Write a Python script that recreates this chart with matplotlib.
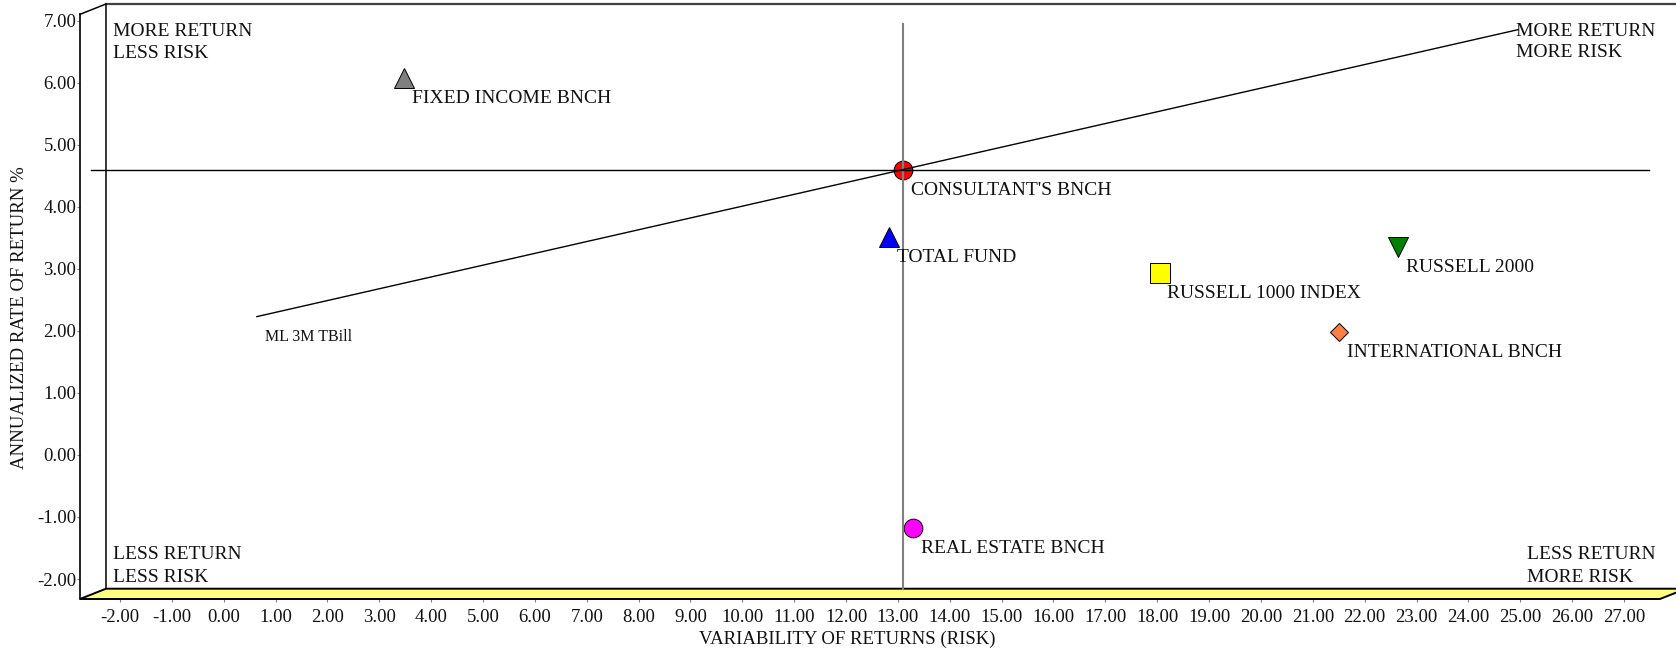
import matplotlib
matplotlib.use("Agg")
import matplotlib.pyplot as plt
from matplotlib.patches import Polygon

plt.rcParams["font.family"] = ["Liberation Serif", "DejaVu Serif"]

# ---- data -------------------------------------------------------------
names = ["CONSULTANT'S BNCH", "TOTAL FUND", "RUSSELL 1000 INDEX",
         "RUSSELL 2000", "INTERNATIONAL BNCH", "REAL ESTATE BNCH",
         "FIXED INCOME BNCH"]
risk = [13.10, 12.83, 18.05, 22.65, 21.51, 13.30, 3.48]
ret = [4.60, 3.51, 2.94, 3.36, 1.98, -1.17, 6.07]

tbill_name = "ML 3M TBill"
tbill_risk = 0.64
tbill_ret = 2.23
cml_end_risk = 24.96

x_ticks = list(range(-2, 28))
y_ticks = list(range(-2, 8))

# ---- styles -----------------------------------------------------------
markers = ["o", "^", "s", "v", "D", "o", "^"]
colors = ["#ff0000", "#0000ff", "#ffff00", "#008000", "#ff8040",
          "#ff00ff", "#808080"]
msizes = [13.5, 13.7, 13.9, 13.7, 9.5, 13.5, 13.7]

W, H = 1676, 650
fig = plt.figure(figsize=(W / 100, H / 100), dpi=100)
fig.patch.set_facecolor("white")

# front plane of the pseudo-3D box
ax = fig.add_axes([80 / W, (H - 599) / H, 1580 / W, 584.7 / H])
xmin, xmax = -2.771, 27.695
ymin, ymax = -2.322, 7.103
ax.set_xlim(xmin, xmax)
ax.set_ylim(ymin, ymax)
ax.set_facecolor("none")

# depth offset of the back wall (data units)
dx, dy = 0.501, 0.166

for s in ("top", "right", "bottom"):
    ax.spines[s].set_visible(False)
ax.spines["left"].set_color("black")
ax.spines["left"].set_linewidth(1.2)

# floor
floor = Polygon([(xmin, ymin), (xmax, ymin), (xmax + dx, ymin + dy),
                 (xmin + dx, ymin + dy)], closed=True,
                facecolor="#ffff80", edgecolor="black", linewidth=1.4,
                clip_on=False, zorder=2)
ax.add_patch(floor)

# back wall edges
ax.plot([xmin + dx, xmin + dx], [ymin + dy, ymax + dy], color="black",
        lw=1.1, clip_on=False, zorder=1)
ax.plot([xmin + dx, xmax + dx], [ymax + dy, ymax + dy], color="#404040",
        lw=1.6, clip_on=False, zorder=1)
ax.plot([xmin, xmin + dx], [ymax, ymax + dy], color="black", lw=1.1,
        clip_on=False, zorder=1)

# ticks
ax.set_xticks(x_ticks)
ax.set_xticklabels([f"{v:.2f}" for v in x_ticks])
ax.set_yticks(y_ticks)
ax.set_yticklabels([f"{v:.2f}" for v in y_ticks])
ax.tick_params(axis="x", length=2.5, width=0.8, color="#808080",
               pad=4.5, labelsize=13.5, labelcolor="#111111")
ax.tick_params(axis="y", length=2.2, width=0.8, color="#808080",
               pad=0.5, labelsize=13.5, labelcolor="#111111")

# reference lines through the consultant's benchmark
ax.plot([risk[0], risk[0]], [ymin + dy, 6.946], color="#808080", lw=1.5,
        zorder=4)
ax.plot([-2.565, 27.49], [ret[0], ret[0]], color="black", lw=1.0,
        zorder=4, clip_on=False)

# capital market line from T-bill through the consultant's benchmark
slope = (ret[0] - tbill_ret) / (risk[0] - tbill_risk)
cml_end_ret = tbill_ret + slope * (cml_end_risk - tbill_risk)
ax.plot([tbill_risk, cml_end_risk], [tbill_ret, cml_end_ret],
        color="black", lw=1.0, zorder=4)

# points and labels
for n, x, y, m, c, s in zip(names, risk, ret, markers, colors, msizes):
    ax.plot([x], [y], marker=m, ms=s, mfc=c, mec="black", mew=0.7,
            linestyle="none", zorder=3)
    ax.annotate(n, (x, y), xytext=(7.5, -25), textcoords="offset pixels",
                ha="left", va="baseline", fontsize=14, color="#111111",
                zorder=5)

ax.annotate(tbill_name, (tbill_risk, tbill_ret), xytext=(8.3, -24.3),
            textcoords="offset pixels", ha="left", va="baseline",
            fontsize=11.5, color="#111111")

# quadrant captions (image-pixel positions of the first-line baselines)
def caption(x, y, lines, step):
    for i, t in enumerate(lines):
        fig.text(x / W, 1 - (y + i * step) / H, t, ha="left",
                 va="baseline", fontsize=14, color="#111111")

caption(112.7, 36.0, ["MORE RETURN", "LESS RISK"], 21.7)
caption(1516.0, 35.5, ["MORE RETURN", "MORE RISK"], 21.7)
caption(112.7, 559.3, ["LESS RETURN", "LESS RISK"], 22.4)
caption(1526.7, 559.3, ["LESS RETURN", "MORE RISK"], 22.4)

# axis titles
fig.text(847 / W, 1 - 639 / H, "VARIABILITY OF RETURNS (RISK)",
         ha="center", va="center", fontsize=13.5, color="#111111")
fig.text(20 / W, 1 - 318 / H, "ANNUALIZED RATE OF RETURN %",
         ha="center", va="center", rotation=90, fontsize=13.5,
         color="#111111")

fig.savefig("out.png", dpi=100)
